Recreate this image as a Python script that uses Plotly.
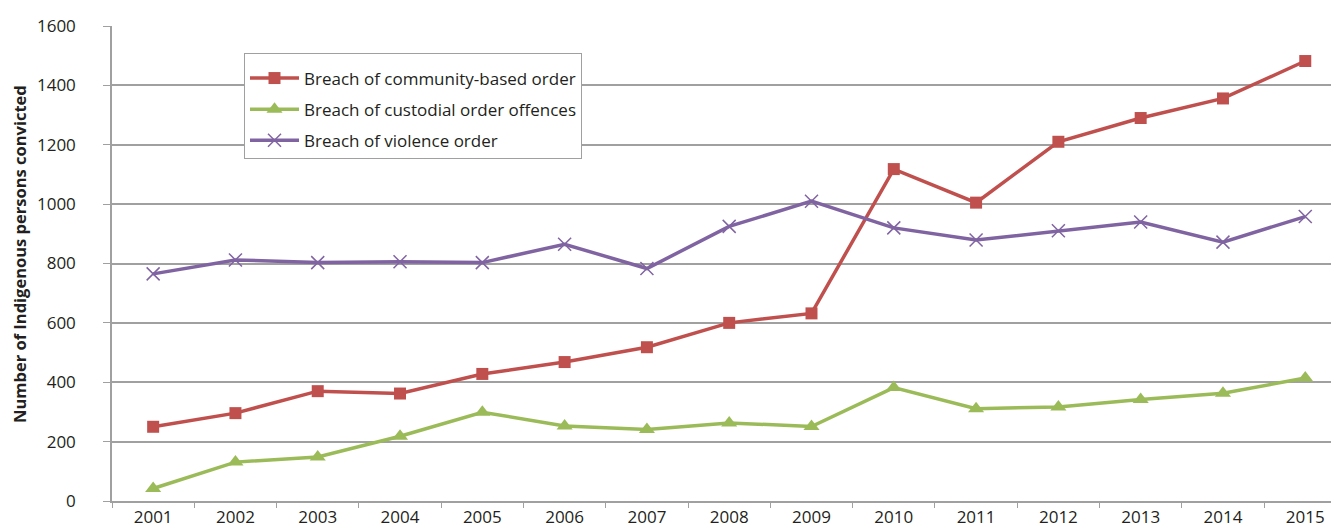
import plotly.graph_objects as go

years = [str(y) for y in range(2001, 2016)]
community = [250, 296, 370, 362, 428, 468, 518, 600, 632, 1118, 1005, 1210, 1290, 1356, 1482]
custodial = [42, 131, 148, 218, 299, 253, 241, 263, 251, 382, 311, 317, 342, 363, 414]
violence = [765, 812, 803, 806, 803, 865, 783, 925, 1010, 920, 879, 910, 940, 872, 958]

names = ["Breach of community-based order", "Breach of custodial order offences", "Breach of violence order"]
y_title = "Number of Indigenous persons convicted"
colors = ["#C0504D", "#9BBB59", "#8064A2"]
FONT = "Open Sans"
TXT = "#231F20"
GRID = "#A0A0A0"

# page offset (browser body margin) compensation
OFF = 8
PLOT_L, PLOT_T, PLOT_B = 112, 26, 501
W, H = 1339 - OFF, 528 - OFF
PH = PLOT_B - PLOT_T
PW = 1339 - PLOT_L

fig = go.Figure()
fig.add_trace(go.Scatter(x=years, y=community, name=names[0], mode="lines+markers",
                         legendgroup="a",
                         line=dict(color=colors[0], width=3.5),
                         marker=dict(symbol="square", size=12, color=colors[0])))
fig.add_trace(go.Scatter(x=years, y=custodial, name=names[1], mode="lines+markers",
                         legendgroup="b",
                         line=dict(color=colors[1], width=3.5),
                         marker=dict(symbol="triangle-up", size=14, color=colors[1])))
fig.add_trace(go.Scatter(x=years, y=violence, name=names[2], mode="lines+markers",
                         legendgroup="c",
                         line=dict(color=colors[2], width=3.5),
                         marker=dict(symbol="x-thin", size=13, color=colors[2],
                                     line=dict(color=colors[2], width=1.5))))

fig.update_layout(
    width=W, height=H,
    margin=dict(l=PLOT_L - OFF, r=0, t=PLOT_T - OFF, b=OFF + H - PLOT_B, pad=0),
    paper_bgcolor="white", plot_bgcolor="white",
    font=dict(family=FONT, size=17, color=TXT),
    showlegend=True,
    legend=dict(x=(244 - PLOT_L) / PW, y=(PLOT_B - 53) / PH, xanchor="left", yanchor="top",
                bordercolor=GRID, borderwidth=1, bgcolor="white",
                font=dict(family=FONT, size=17, color=TXT),
                title=dict(text=" ", font=dict(size=5)),
                itemwidth=49, tracegroupgap=6),
    annotations=[dict(text="<b>" + y_title + "</b>", textangle=-90,
                      xref="paper", yref="paper",
                      x=(19 - PLOT_L) / PW, y=(PLOT_B - 254) / PH,
                      xanchor="center", yanchor="middle", showarrow=False,
                      font=dict(family=FONT, size=16.5, color=TXT))],
)
fig.update_xaxes(type="category", range=[-0.5, 14.41], showgrid=False,
                 showline=True, linecolor=GRID, linewidth=1.5,
                 ticks="outside", tickson="boundaries", ticklen=5, tickcolor=GRID,
                 automargin=False,
                 tickfont=dict(family=FONT, size=17, color=TXT), zeroline=False)
fig.update_yaxes(range=[0, 1600], dtick=200, showgrid=True, gridcolor=GRID, gridwidth=1.5,
                 showline=True, linecolor=GRID, linewidth=1.5,
                 ticks="outside", ticklen=7, tickcolor=GRID, ticklabelstandoff=24,
                 automargin=False,
                 tickfont=dict(family=FONT, size=17, color=TXT), zeroline=False)

fig.write_html("out.html")
